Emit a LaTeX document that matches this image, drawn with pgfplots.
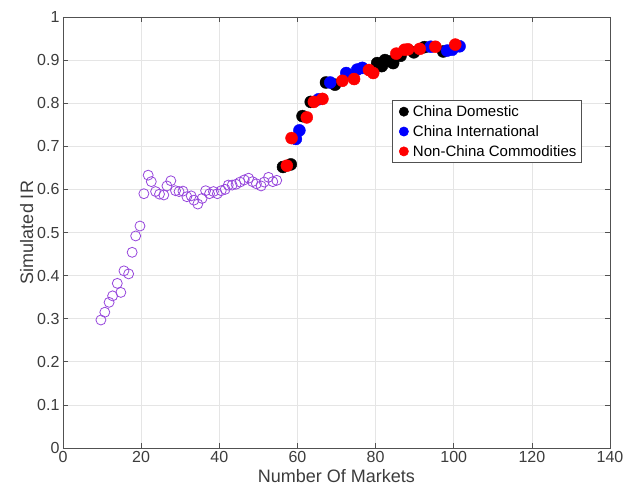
\documentclass[border=0pt]{standalone}
\usepackage{pgfplots}
\pgfplotsset{compat=1.18}
\usepackage{fontspec}
\setmainfont{Liberation Sans}
\definecolor{pur}{RGB}{150,70,220}
\definecolor{axgray}{RGB}{38,38,38}
\begin{document}
\begin{tikzpicture}
\begin{axis}[
  scale only axis, width=547pt, height=431pt,
  xmin=0, xmax=140, ymin=0, ymax=1,
  xtick={0,20,...,140}, ytick={0,0.1,...,1},
  yticklabels={0,0.1,0.2,0.3,0.4,0.5,0.6,0.7,0.8,0.9,1},
  /pgf/number format/assume math mode=true,
  tick label style={font=\fontsize{16}{18}\selectfont, text=axgray!90},
  label style={font=\fontsize{18}{20}\selectfont, text=axgray!90},
  xlabel={Number Of Markets}, ylabel={Simulated IR},
  ylabel style={yshift=-3pt},
  grid=major, major grid style={gray!20, line width=0.6pt},
  axis line style={axgray!80, line width=0.6pt},
  tick style={axgray!80, line width=0.6pt},
  tick align=inside, major tick length=5pt,
  xtick pos=both, ytick pos=both,
  legend style={at={(rel axis cs:0.602,0.807)}, anchor=north west,
    draw=axgray!80, line width=0.6pt, font=\fontsize{15}{18}\selectfont,
    inner xsep=3pt, inner ysep=3pt, row sep=3.5pt, cells={anchor=west}},
  legend cell align=left,
  legend image code/.code={\path (-0.12cm,0cm) (0.4cm,0cm); \draw[mark size=4.6pt] plot coordinates {(0.16cm,0cm)};},
]
\addplot[only marks, mark=o, mark size=5pt, draw=pur, line width=0.8pt, forget plot] coordinates {
(9.7,0.297) (10.7,0.315) (11.8,0.338) (12.7,0.353) (13.9,0.382) (14.8,0.361)
(15.6,0.411) (16.8,0.404) (17.7,0.454) (18.6,0.492) (19.7,0.515) (20.7,0.590)
(21.8,0.633) (22.6,0.618) (23.7,0.595) (24.7,0.589) (25.8,0.587) (26.6,0.608)
(27.6,0.620) (28.8,0.597) (29.7,0.595) (30.7,0.596) (31.7,0.583) (32.8,0.585)
(33.5,0.575) (34.5,0.566) (35.6,0.579) (36.5,0.597) (37.5,0.590) (38.5,0.595)
(39.5,0.590) (40.5,0.597) (41.5,0.600) (42.3,0.610) (43.3,0.610) (44.3,0.612)
(45.3,0.617) (46.4,0.622) (47.5,0.626) (48.5,0.618) (49.5,0.613) (50.7,0.608)
(51.5,0.617) (52.6,0.628) (53.7,0.618) (54.7,0.621)
};
\addplot[only marks, mark=*, mark size=6pt, draw=black, fill=black] coordinates {
(56.3,0.652) (58.3,0.658) (61.3,0.770) (63.4,0.803) (67.3,0.848) (69.6,0.843)
(80.4,0.893) (81.6,0.886) (82.4,0.900) (83.8,0.897) (84.5,0.893) (86.4,0.910)
(89.8,0.918) (92.5,0.930) (97.3,0.920)
};
\addlegendentry{China Domestic}
\addplot[only marks, mark=*, mark size=6pt, draw=blue, fill=blue] coordinates {
(59.6,0.717) (60.5,0.737) (65.4,0.809) (68.4,0.848) (72.5,0.870) (75.3,0.878)
(76.6,0.882) (94.1,0.931) (98.3,0.922) (99.6,0.924) (101.5,0.932)
};
\addlegendentry{China International}
\addplot[only marks, mark=*, mark size=6pt, draw=red, fill=red] coordinates {
(57.3,0.655) (58.5,0.719) (62.4,0.767) (64.2,0.803) (66.4,0.810) (71.5,0.852)
(74.5,0.856) (78.3,0.877) (79.4,0.870) (85.3,0.915) (87.4,0.924) (88.3,0.925)
(91.3,0.926) (95.3,0.931) (100.4,0.936)
};
\addlegendentry{Non-China Commodities}
\end{axis}
\pgfresetboundingbox
\path ([shift={(-63pt,-49pt)}]current axis.south west) rectangle ([shift={(13pt,17pt)}]current axis.north east);
\end{tikzpicture}
\end{document}
